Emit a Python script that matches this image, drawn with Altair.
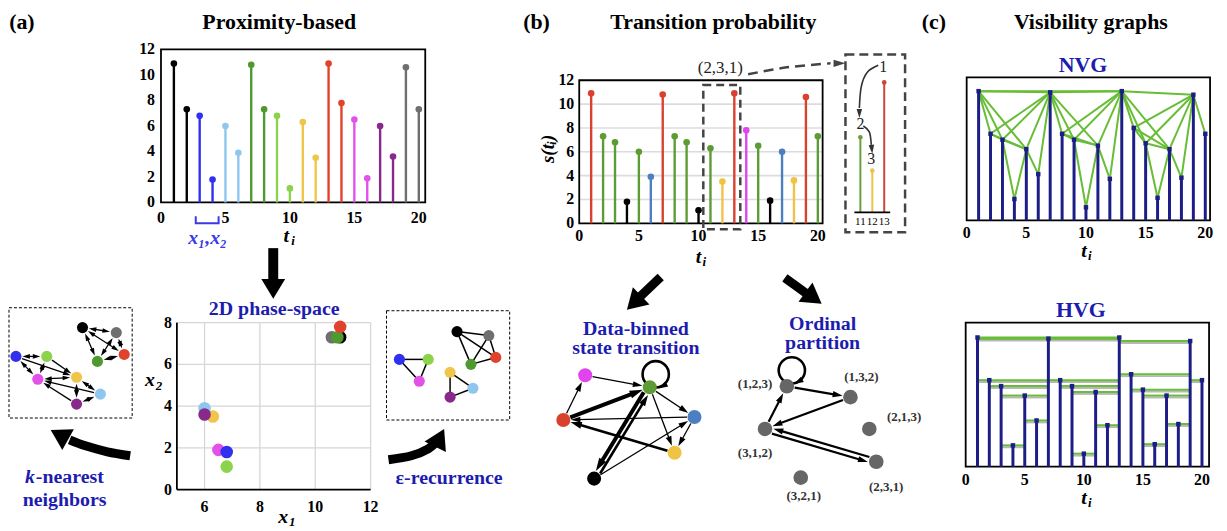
import math
import altair as alt
import pandas as pd

# ---------------- data ----------------
t_vals = list(range(1, 21))
s_vals = [10.9, 7.3, 6.8, 1.8, 6.0, 3.9, 10.8, 7.3, 6.8, 1.1,
          6.3, 3.5, 10.9, 7.8, 6.5, 1.9, 6.0, 3.6, 10.6, 7.3]

pair_names = ["black", "blue", "lightblue", "darkgreen", "lightgreen",
              "yellow", "red", "magenta", "purple", "gray"]
pair_colors = ["#000000", "#3030ee", "#8ec6f0", "#4f9a2e", "#8ad34a",
               "#efc64b", "#e0422c", "#e252ea", "#872a8b", "#6f6f6f"]
scatter_order = ["lightblue", "yellow", "purple", "magenta", "blue",
                 "lightgreen", "black", "gray", "darkgreen", "red"]

state_seq = ["R", "G", "G", "K", "G", "B", "R", "G", "G", "K",
             "G", "Y", "R", "M", "G", "K", "B", "Y", "R", "G"]
state_names = ["R", "G", "K", "B", "Y", "M"]
state_colors = ["#d9412f", "#5d9c35", "#000000", "#4b7fc1", "#f1c345", "#e044ec"]

inset_t = [11, 12, 13]
inset_colors = ["#6aa03c", "#e9c44c", "#c9483b"]

# network layouts (local pixel units)
knn_x = [74, 7, 92, 89, 38, 68, 116, 29, 68, 108]
knn_y = [20, 49, 87, 54, 49, 70, 47, 72, 97, 25]
eps_x = [71, 13, 87, 85, 42, 64, 110, 33, 64, 103]
eps_y = [21, 49, 78, 54, 49, 62, 47, 71, 87, 25]
db_x = [17, 104, 48, 149, 129, 39]
db_y = [61, 28, 120, 58, 94, 16]
op_names = ["(1,2,3)", "(1,3,2)", "(2,1,3)", "(3,1,2)", "(2,3,1)", "(3,2,1)"]
op_x = [52, 116, 135, 30, 142, 66]
op_y = [17, 28, 60, 60, 93, 109]
op_lx = [20, 127, 170, 20, 152, 69]
op_ly = [15, 8, 48, 84, 118, 128]

x_ticks = [0, 5, 10, 15, 20]
y_ticks = [0, 2, 4, 6, 8, 10, 12]
ps_x_ticks = [6, 8, 10, 12]
ps_y_ticks = [0, 2, 4, 6, 8]

# ---------------- layout helpers ----------------
W, H, O = 1219, 523, 8
FONT = "Liberation Serif"
BLUE = "#1c1cae"
NAVY = "#1d1d88"
VGREEN = "#67bd36"


def S(dom, a, b):
    return alt.Scale(domain=list(dom), range=[a - O, b - O], nice=False, zero=False)


def xticks(sx, sy, vals, at, dy, size=16, weight="bold"):
    df = pd.DataFrame({"v": vals, "z": at, "text": [str(v) for v in vals]})
    return alt.Chart(df).mark_text(font=FONT, fontSize=size, fontWeight=weight, color="black",
                                   align="center", baseline="middle", dy=dy).encode(
        x=alt.X("v:Q", scale=sx, axis=None), y=alt.Y("z:Q", scale=sy, axis=None), text="text:N")


def yticks(sx, sy, vals, at, dx, size=16):
    df = pd.DataFrame({"v": vals, "z": at, "text": [str(v) for v in vals]})
    return alt.Chart(df).mark_text(font=FONT, fontSize=size, fontWeight="bold", color="black",
                                   align="right", baseline="middle", dx=-dx).encode(
        y=alt.Y("v:Q", scale=sy, axis=None), x=alt.X("z:Q", scale=sx, axis=None), text="text:N")


def frame(sx, sy, x0, x1, y0, y1, color="black", width=1.8, dash=None):
    df = pd.DataFrame({"x0": [x0], "x1": [x1], "y0": [y0], "y1": [y1]})
    kw = dict(fill="transparent", stroke=color, strokeWidth=width)
    if dash:
        kw["strokeDash"] = dash
    return alt.Chart(df).mark_rect(**kw).encode(
        x=alt.X("x0:Q", scale=sx, axis=None), x2="x1:Q",
        y=alt.Y("y0:Q", scale=sy, axis=None), y2="y1:Q")


def edges_geom(pos, edges, r, L_of):
    segs, heads = [], []
    for a, b, w, ha, hb, off in edges:
        (x1, y1), (x2, y2) = pos[a], pos[b]
        dx, dy = x2 - x1, y2 - y1
        d = math.hypot(dx, dy)
        ux, uy = dx / d, dy / d
        nx, ny = -uy, ux
        sx, sy = x1 + ux * r + nx * off, y1 + uy * r + ny * off
        ex, ey = x2 - ux * r + nx * off, y2 - uy * r + ny * off
        L = L_of(w)
        if hb:
            heads.append({"x": ex - ux * L / 2, "y": ey - uy * L / 2,
                          "ang": math.degrees(math.atan2(ux, -uy)) % 360, "sz": L * L})
            ex, ey = ex - ux * L * 0.6, ey - uy * L * 0.6
        if ha:
            heads.append({"x": sx + ux * L / 2, "y": sy + uy * L / 2,
                          "ang": math.degrees(math.atan2(-ux, uy)) % 360, "sz": L * L})
            sx, sy = sx + ux * L * 0.6, sy + uy * L * 0.6
        segs.append({"x": sx, "y": sy, "x2": ex, "y2": ey, "w": w})
    return pd.DataFrame(segs), pd.DataFrame(heads)


HEAD_SMALL = "M0,-1L0.62,1L-0.62,1Z"
HEAD_BIG = "M0,-1L1.2,1L-1.2,1Z"


def net_layers(sx, sy, segs, heads, color="black"):
    out = [alt.Chart(segs).mark_rule(color=color).encode(
        x=alt.X("x:Q", scale=sx, axis=None), y=alt.Y("y:Q", scale=sy, axis=None),
        x2="x2:Q", y2="y2:Q", strokeWidth=alt.StrokeWidth("w:Q", scale=None))]
    if len(heads):
        out.append(alt.Chart(heads).mark_point(shape=HEAD_SMALL, filled=True, opacity=1,
                                               color=color, strokeWidth=0).encode(
            x=alt.X("x:Q", scale=sx, axis=None), y=alt.Y("y:Q", scale=sy, axis=None),
            angle=alt.Angle("ang:Q", scale=None), size=alt.Size("sz:Q", scale=None)))
    return out


def nodes_layer(df, sx, sy, size):
    return alt.Chart(df).mark_circle(size=size, opacity=1).encode(
        x=alt.X("x:Q", scale=sx, axis=None), y=alt.Y("y:Q", scale=sy, axis=None),
        color=alt.Color("c:N", scale=None))


# ---------------- (a) stem plot ----------------
sxA1 = S([0, 20.5], 162, 428)
syA1 = S([0, 12], 202, 48)
dfA1 = pd.DataFrame({"t": t_vals, "s": s_vals, "z": 0,
                     "c": [pair_colors[i // 2] for i in range(20)]})
A1 = alt.layer(
    frame(sxA1, syA1, 0, 20.5, 0, 12),
    alt.Chart(dfA1).mark_rule(strokeWidth=2.4).encode(
        x=alt.X("t:Q", scale=sxA1, axis=None),
        y=alt.Y("z:Q", scale=syA1, axis=None),
        y2="s:Q", color=alt.Color("c:N", scale=None)),
    alt.Chart(dfA1).mark_circle(size=44, opacity=1).encode(
        x=alt.X("t:Q", scale=sxA1, axis=None), y=alt.Y("s:Q", scale=syA1, axis=None),
        color=alt.Color("c:N", scale=None)),
    xticks(sxA1, syA1, x_ticks, 0, 16),
    yticks(sxA1, syA1, y_ticks, 0, 6),
)

# ---------------- (a) phase space ----------------
sxA2 = S([5, 12], 178, 373)
syA2 = S([0, 8], 491, 323)
gx = pd.DataFrame({"v": ps_x_ticks, "a": 0, "b": 8})
gy = pd.DataFrame({"v": ps_y_ticks[1:], "a": 5, "b": 12})
px = {n: (s_vals[2 * k], s_vals[2 * k + 1]) for k, n in enumerate(pair_names)}
dfA2 = pd.DataFrame({"x": [px[n][0] for n in scatter_order],
                     "y": [px[n][1] for n in scatter_order],
                     "c": [pair_colors[pair_names.index(n)] for n in scatter_order]})
axl = pd.DataFrame({"x": [5], "y": [0], "y2": [8]})
axb = pd.DataFrame({"x": [5], "x2": [12], "y": [0]})
A2 = alt.layer(
    alt.Chart(gx).mark_rule(color="#d6d6d6", strokeWidth=1.3).encode(
        x=alt.X("v:Q", scale=sxA2, axis=None),
        y=alt.Y("a:Q", scale=syA2, axis=None), y2="b:Q"),
    alt.Chart(gy).mark_rule(color="#d6d6d6", strokeWidth=1.3).encode(
        y=alt.Y("v:Q", scale=syA2, axis=None),
        x=alt.X("a:Q", scale=sxA2, axis=None), x2="b:Q"),
    alt.Chart(axl).mark_rule(color="black", strokeWidth=1.8).encode(
        x=alt.X("x:Q", scale=sxA2, axis=None), y=alt.Y("y:Q", scale=syA2, axis=None), y2="y2:Q"),
    alt.Chart(axb).mark_rule(color="black", strokeWidth=1.8).encode(
        x=alt.X("x:Q", scale=sxA2, axis=None), x2="x2:Q", y=alt.Y("y:Q", scale=syA2, axis=None)),
    alt.Chart(dfA2).mark_circle(size=160, opacity=1).encode(
        x=alt.X("x:Q", scale=sxA2, axis=None), y=alt.Y("y:Q", scale=syA2, axis=None),
        color=alt.Color("c:N", scale=None)),
    xticks(sxA2, syA2, ps_x_ticks, 0, 18),
    yticks(sxA2, syA2, ps_y_ticks, 5, 5),
)

# ---------------- (b) stem plot ----------------
sxB1 = S([0, 20.4], 583, 828)
syB1 = S([0, 12], 223, 79)
dfB1 = pd.DataFrame({"t": t_vals, "s": s_vals, "z": 0,
                     "c": [state_colors[state_names.index(k)] for k in state_seq]})
gB = pd.DataFrame({"v": [2, 4, 6, 8, 10], "a": 0, "b": 20.4})
B1 = alt.layer(
    alt.Chart(gB).mark_rule(color="#dcdcdc", strokeWidth=1.6).encode(
        y=alt.Y("v:Q", scale=syB1, axis=None),
        x=alt.X("a:Q", scale=sxB1, axis=None), x2="b:Q"),
    frame(sxB1, syB1, 0, 20.4, 0, 12),
    alt.Chart(dfB1).mark_rule(strokeWidth=2.4).encode(
        x=alt.X("t:Q", scale=sxB1, axis=None), y=alt.Y("z:Q", scale=syB1, axis=None),
        y2="s:Q", color=alt.Color("c:N", scale=None)),
    alt.Chart(dfB1).mark_circle(size=44, opacity=1).encode(
        x=alt.X("t:Q", scale=sxB1, axis=None), y=alt.Y("s:Q", scale=syB1, axis=None),
        color=alt.Color("c:N", scale=None)),
    frame(sxB1, syB1, 10.4, 13.5, -0.5, 11.6, color="#444444", width=2.5, dash=[8, 5]),
    xticks(sxB1, syB1, x_ticks, 0, 13),
    yticks(sxB1, syB1, y_ticks, 0, 5),
)

# ---------------- (b) inset ----------------
sxB2 = S([10.5, 13.5], 860, 896)
syB2 = S([0, 12], 212, 68)
dfB2 = pd.DataFrame({"t": inset_t, "s": [s_vals[i - 1] for i in inset_t], "z": 0,
                     "c": inset_colors})
baseB2 = pd.DataFrame({"a": [10.5], "b": [13.5], "z": [0]})
B2 = alt.layer(
    alt.Chart(dfB2).mark_rule(strokeWidth=2).encode(
        x=alt.X("t:Q", scale=sxB2, axis=None),
        y=alt.Y("z:Q", scale=syB2, axis=None), y2="s:Q", color=alt.Color("c:N", scale=None)),
    alt.Chart(baseB2).mark_rule(strokeWidth=1.6, color="black").encode(
        x=alt.X("a:Q", scale=sxB2, axis=None), x2="b:Q", y=alt.Y("z:Q", scale=syB2, axis=None)),
    alt.Chart(dfB2).mark_circle(size=22, opacity=1).encode(
        x=alt.X("t:Q", scale=sxB2, axis=None), y=alt.Y("s:Q", scale=syB2, axis=None),
        color=alt.Color("c:N", scale=None)),
    xticks(sxB2, syB2, inset_t, 0, 10, size=11, weight="normal"),
)

# ---------------- (a) k-nearest neighbours ----------------
pts = [(s_vals[2 * k], s_vals[2 * k + 1]) for k in range(10)]


def dist(a, b):
    return math.hypot(pts[a][0] - pts[b][0], pts[a][1] - pts[b][1])


directed = set()
for a in range(10):
    nb = sorted([b for b in range(10) if b != a], key=lambda b: dist(a, b))[:3]
    for b in nb:
        directed.add((a, b))
knn_edges = []
for a in range(10):
    for b in range(a + 1, 10):
        ab, ba = (a, b) in directed, (b, a) in directed
        if ab or ba:
            knn_edges.append((a, b, 1.3, ba, ab, 0))
posK = list(zip(knn_x, knn_y))
segK, headK = edges_geom(posK, knn_edges, 6.5, lambda w: 7.5)
sxK = S([0, 124], 9, 133)
syK = S([0, 111], 308, 419)
nodesK = pd.DataFrame({"x": knn_x, "y": knn_y, "c": pair_colors})
K = alt.layer(*net_layers(sxK, syK, segK, headK), nodes_layer(nodesK, sxK, syK, 125))

# ---------------- (a) epsilon recurrence ----------------
eps_edges = [(a, b, 1.5, False, False, 0) for a in range(10) for b in range(a + 1, 10)
             if dist(a, b) < 1.0]
posE = list(zip(eps_x, eps_y))
segE, _ = edges_geom(posE, eps_edges, 0, lambda w: 0)
sxE = S([0, 124], 389, 513)
syE = S([0, 110], 311, 421)
nodesE = pd.DataFrame({"x": eps_x, "y": eps_y, "c": pair_colors})
E = alt.layer(net_layers(sxE, syE, segE, pd.DataFrame())[0], nodes_layer(nodesE, sxE, syE, 125))

# ---------------- (b) data-binned transitions ----------------
counts = {}
for a, b in zip(state_seq[:-1], state_seq[1:]):
    counts[(a, b)] = counts.get((a, b), 0) + 1
wmap = {1: 1.3, 2: 2.6, 3: 4.0}
db_edges = []
for (a, b), c in counts.items():
    if a == b:
        continue
    ia, ib = state_names.index(a), state_names.index(b)
    off = 2.5 if (b, a) in counts else 0
    db_edges.append((ia, ib, wmap[c], False, True, off))
posD = list(zip(db_x, db_y))
segD, headD = edges_geom(posD, db_edges, 7.5, lambda w: 8 + 1.3 * w)
sxD = S([0, 160], 550, 710)
syD = S([0, 140], 360, 500)
nodesD = pd.DataFrame({"x": db_x, "y": db_y, "c": state_colors})
loopD = pd.DataFrame({"x": [110], "y": [15]})
loopDh = pd.DataFrame({"x": [117], "y": [27], "ang": [240], "sz": [90]})
D = alt.layer(
    *net_layers(sxD, syD, segD, headD),
    alt.Chart(loopD).mark_point(shape="circle", filled=False, size=700, strokeWidth=2.6,
                                color="black", opacity=1).encode(
        x=alt.X("x:Q", scale=sxD, axis=None), y=alt.Y("y:Q", scale=syD, axis=None)),
    alt.Chart(loopDh).mark_point(shape=HEAD_SMALL, filled=True, opacity=1, color="black",
                                 strokeWidth=0).encode(
        x=alt.X("x:Q", scale=sxD, axis=None), y=alt.Y("y:Q", scale=syD, axis=None),
        angle=alt.Angle("ang:Q", scale=None), size=alt.Size("sz:Q", scale=None)),
    nodes_layer(nodesD, sxD, syD, 200),
)


# ---------------- (b) ordinal partition ----------------
def pattern(w):
    order = sorted(range(3), key=lambda i: -w[i])
    ranks = [0] * 3
    for r, i in enumerate(order):
        ranks[i] = r + 1
    return "(" + ",".join(str(v) for v in ranks) + ")"


pats = [pattern(s_vals[i:i + 3]) for i in range(len(s_vals) - 2)]
ptrans = set(zip(pats[:-1], pats[1:]))
op_edges = []
for a, b in sorted(ptrans):
    if a == b:
        continue
    ia, ib = op_names.index(a), op_names.index(b)
    off = 2.6 if (b, a) in ptrans else 0
    op_edges.append((ia, ib, 2.2, False, True, off))
posP = list(zip(op_x, op_y))
segP, headP = edges_geom(posP, op_edges, 8, lambda w: 10)
sxP = S([0, 200], 740, 940)
syP = S([0, 140], 370, 510)
nodesP = pd.DataFrame({"x": op_x, "y": op_y, "c": "#666666"})
labP = pd.DataFrame({"x": op_lx, "y": op_ly, "text": op_names})
loopP = pd.DataFrame({"x": [57], "y": [1]})
loopPh = pd.DataFrame({"x": [63.5], "y": [12.5], "ang": [240], "sz": [90]})
P = alt.layer(
    *net_layers(sxP, syP, segP, headP),
    alt.Chart(loopP).mark_point(shape="circle", filled=False, size=700, strokeWidth=2.6,
                                color="black", opacity=1).encode(
        x=alt.X("x:Q", scale=sxP, axis=None), y=alt.Y("y:Q", scale=syP, axis=None)),
    alt.Chart(loopPh).mark_point(shape=HEAD_SMALL, filled=True, opacity=1, color="black",
                                 strokeWidth=0).encode(
        x=alt.X("x:Q", scale=sxP, axis=None), y=alt.Y("y:Q", scale=syP, axis=None),
        angle=alt.Angle("ang:Q", scale=None), size=alt.Size("sz:Q", scale=None)),
    nodes_layer(nodesP, sxP, syP, 215),
    alt.Chart(labP).mark_text(font=FONT, fontSize=13, fontWeight="bold", color="#333333",
                              align="center", baseline="middle").encode(
        x=alt.X("x:Q", scale=sxP, axis=None), y=alt.Y("y:Q", scale=syP, axis=None),
        text="text:N"),
)

# ---------------- (c) visibility graphs ----------------
n = len(s_vals)
nvg, hvg = [], []
for i in range(n):
    for j in range(i + 1, n):
        mid = range(i + 1, j)
        if all(s_vals[k] < s_vals[j] + (s_vals[i] - s_vals[j]) * (j - k) / (j - i) for k in mid):
            nvg.append({"t1": t_vals[i], "s1": s_vals[i], "t2": t_vals[j], "s2": s_vals[j]})
        h = min(s_vals[i], s_vals[j])
        if all(s_vals[k] < h for k in mid):
            hvg.append({"t1": t_vals[i], "t2": t_vals[j], "h": h, "hs": h - 0.16})
dfN = pd.DataFrame(nvg)
dfHv = pd.DataFrame(hvg)
dfVG = pd.DataFrame({"t": t_vals, "s": s_vals, "z": 0})

sxN = S([0, 20.4], 973, 1218)
syN = S([0, 12.07], 220, 76)
N = alt.layer(
    frame(sxN, syN, 0, 20.4, 0, 12.07),
    alt.Chart(dfN).mark_rule(color=VGREEN, strokeWidth=2).encode(
        x=alt.X("t1:Q", scale=sxN, axis=None), y=alt.Y("s1:Q", scale=syN, axis=None),
        x2="t2:Q", y2="s2:Q"),
    alt.Chart(dfVG).mark_rule(color=NAVY, strokeWidth=3).encode(
        x=alt.X("t:Q", scale=sxN, axis=None),
        y=alt.Y("z:Q", scale=syN, axis=None), y2="s:Q"),
    alt.Chart(dfVG).mark_square(size=20, opacity=1, color=NAVY).encode(
        x=alt.X("t:Q", scale=sxN, axis=None), y=alt.Y("s:Q", scale=syN, axis=None)),
    xticks(sxN, syN, x_ticks, 0, 13),
)

sxH = S([0, 20.6], 972, 1217)
syH = S([0, 12.15], 468, 323)
Hv = alt.layer(
    frame(sxH, syH, 0, 20.6, 0, 12.15),
    alt.Chart(dfHv).mark_rule(color="#b8b8b8", strokeWidth=2).encode(
        x=alt.X("t1:Q", scale=sxH, axis=None), x2="t2:Q",
        y=alt.Y("hs:Q", scale=syH, axis=None)),
    alt.Chart(dfHv).mark_rule(color=VGREEN, strokeWidth=2).encode(
        x=alt.X("t1:Q", scale=sxH, axis=None), x2="t2:Q",
        y=alt.Y("h:Q", scale=syH, axis=None)),
    alt.Chart(dfVG).mark_rule(color=NAVY, strokeWidth=3).encode(
        x=alt.X("t:Q", scale=sxH, axis=None),
        y=alt.Y("z:Q", scale=syH, axis=None), y2="s:Q"),
    alt.Chart(dfVG).mark_square(size=20, opacity=1, color=NAVY).encode(
        x=alt.X("t:Q", scale=sxH, axis=None), y=alt.Y("s:Q", scale=syH, axis=None)),
    xticks(sxH, syH, x_ticks, 0, 13),
)

# ---------------- canvas: text, arrows, boxes ----------------
sxC = alt.Scale(domain=[O, O + W], range=[0, W], nice=False, zero=False)
syC = alt.Scale(domain=[O, O + H], range=[0, H], nice=False, zero=False)


def cx(f="x"):
    return alt.X(f + ":Q", scale=sxC, axis=None)


def cy(f="y"):
    return alt.Y(f + ":Q", scale=syC, axis=None)


def texts(rows, size, color="black", weight="bold", style="normal", angle=0, align="center"):
    df = pd.DataFrame(rows, columns=["x", "y", "text"])
    return alt.Chart(df).mark_text(font=FONT, fontSize=size, fontWeight=weight, fontStyle=style,
                                   color=color, angle=angle, align=align,
                                   baseline="middle").encode(x=cx(), y=cy(), text="text:N")


titles = [(22, 20, "(a)"), (281, 20, "Proximity-based"), (540, 20, "(b)"),
          (718, 20, "Transition probability"), (940, 20, "(c)"), (1098, 20, "Visibility graphs")]
captions = [(276, 309, "2D phase-space"), (65, 502, "neighbors"),
            (452, 479, "ε-recurrence"), (640, 329, "Data-binned"), (640, 349, "state transition"),
            (828, 324, "Ordinal"), (828, 344, "partition")]
captions_left = [(36, 478, "-nearest")]
captions_italic = [(30, 478, "k")]
vg_titles = [(1090, 64, "NVG"), (1088, 310, "HVG")]
math_main = [(288, 236, "t"), (703, 257, "t"), (1091, 251, "t"), (1091, 500, "t"),
             (285, 519, "x"), (151, 381, "x")]
math_sub = [(295, 241, "i"), (709, 262, "i"), (1097, 256, "i"), (1097, 505, "i"),
            (294, 524, "1"), (160, 387, "2")]
blue_math = [(209, 238, "x₁,x₂")]
ylab = [(552, 148, "s(tᵢ)")]
small_reg = [(725, 67, "(2,3,1)")]
inset_txt = [(889, 66, "1"), (866, 123, "2"), (877, 158, "3")]

boxes_thin = pd.DataFrame({"x": [9, 389], "x2": [133, 513], "y": [308, 311], "y2": [419, 421]})
boxes_thick = pd.DataFrame({"x": [851], "x2": [911], "y": [53], "y2": [232]})

path_rows = []
paths = {
    "down": ([(275, 248), (275, 283)], 10, "black"),
    "bl": ([(665, 277), (641, 300)], 9, "black"),
    "br": ([(790, 278), (815, 296)], 9, "black"),
    "knn": ([(131, 457), (108, 453), (86, 447), (70, 441)], 9, "black"),
    "eps": ([(391, 461), (414, 457), (431, 450), (440, 442)], 9, "black"),
    "in1": ([(884, 64), (873, 71), (867, 85), (865, 107)], 1.6, "#333333"),
    "in2": ([(869, 125), (875, 131), (877, 144)], 1.6, "#333333"),
}
for pid, (ptsl, w, c) in paths.items():
    for k, (x, y) in enumerate(ptsl):
        path_rows.append({"id": pid, "ord": k, "x": x, "y": y, "w": w, "c": c})
dfPaths = pd.DataFrame(path_rows)
dfDash = pd.DataFrame({"id": "dash", "ord": [0, 1, 2], "x": [753, 792, 836], "y": [73, 66, 62]})
dfBracket = pd.DataFrame({"ord": [0, 1, 2, 3], "x": [197, 197, 220, 220], "y": [216, 223, 223, 216]})


def head_rows(specs):
    rows = []
    for tx, ty, dx, dy, L, c in specs:
        d = math.hypot(dx, dy)
        ux, uy = dx / d, dy / d
        rows.append({"x": tx - ux * L / 2, "y": ty - uy * L / 2,
                     "ang": math.degrees(math.atan2(ux, -uy)) % 360, "sz": L * L, "c": c})
    return pd.DataFrame(rows)


big_heads = head_rows([(275, 299, 0, 1, 20, "black"), (631, 310, -33, 32, 20, "black"),
                       (827, 304, 36, 26, 20, "black"), (51, 431, -18, -10, 20, "black"),
                       (447, 430, 7, -14, 20, "black")])
small_heads = head_rows([(865, 117, 0, 1, 9, "#333333"), (878, 153, 0.1, 1, 9, "#333333"),
                         (851, 62, 1, 0, 12, "#444444")])


def head_layer(df, shape):
    return alt.Chart(df).mark_point(shape=shape, filled=True, opacity=1, strokeWidth=0).encode(
        x=cx(), y=cy(), angle=alt.Angle("ang:Q", scale=None), size=alt.Size("sz:Q", scale=None),
        color=alt.Color("c:N", scale=None))


C = alt.layer(
    alt.Chart(boxes_thin).mark_rect(fill="transparent", stroke="black", strokeWidth=1,
                                    strokeDash=[3, 2]).encode(x=cx(), x2="x2:Q", y=cy(), y2="y2:Q"),
    alt.Chart(boxes_thick).mark_rect(fill="transparent", stroke="#444444", strokeWidth=2.5,
                                     strokeDash=[9, 5]).encode(x=cx(), x2="x2:Q", y=cy(), y2="y2:Q"),
    alt.Chart(dfPaths).mark_line(interpolate="cardinal", strokeCap="butt").encode(
        x=cx(), y=cy(), detail="id:N", order="ord:Q",
        strokeWidth=alt.StrokeWidth("w:Q", scale=None), color=alt.Color("c:N", scale=None)),
    alt.Chart(dfDash).mark_line(interpolate="cardinal", color="#444444", strokeWidth=2.5,
                                strokeDash=[10, 6]).encode(x=cx(), y=cy(), detail="id:N",
                                                           order="ord:Q"),
    alt.Chart(dfBracket).mark_line(color="#3a3ae6", strokeWidth=2).encode(
        x=cx(), y=cy(), order="ord:Q"),
    head_layer(big_heads, HEAD_BIG),
    head_layer(small_heads, HEAD_SMALL),
    texts(titles, 22),
    texts(captions, 20, color=BLUE),
    texts(captions_left, 20, color=BLUE, align="left"),
    texts(captions_italic, 20, color=BLUE, style="italic"),
    texts(vg_titles, 22, color=BLUE),
    texts(math_main, 20, style="italic"),
    texts(math_sub, 13, style="italic"),
    texts(blue_math, 20, color="#3a3ae6", style="italic"),
    texts(ylab, 19, style="italic", angle=270),
    texts(small_reg, 17, weight="normal", color="#222222"),
    texts(inset_txt, 16, weight="normal", color="#222222"),
)

chart = alt.layer(A1, A2, B1, B2, K, E, D, P, N, Hv, C).resolve_scale(
    x="independent", y="independent").properties(
    width=W, height=H, autosize=alt.AutoSizeParams(type="none"), padding=0
).configure_view(stroke=None)

chart.save("out.html", embed_options={"renderer": "svg", "actions": False})
